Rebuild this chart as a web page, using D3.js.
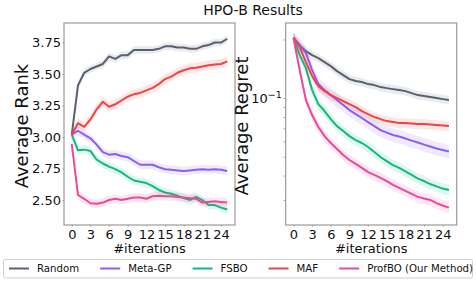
<!DOCTYPE html>
<html>
<head>
<meta charset="utf-8">
<script src="https://cdnjs.cloudflare.com/ajax/libs/d3/7.8.5/d3.min.js"></script>
<style>
    body { margin: 0; background: #fff; }
    svg { display: block; font-family: "DejaVu Sans", sans-serif; }
</style>
</head>
<body>
<svg id="chart" width="476" height="281"></svg>
<script>
// HPO-B results: average rank (left) and average regret (right, log scale)

var iterations = [0, 1, 2, 3, 4, 5, 6, 7, 8, 9, 10, 11, 12, 13, 14, 15, 16, 17, 18, 19, 20, 21, 22, 23, 24, 25];
var xTicks = [0, 3, 6, 9, 12, 15, 18, 21, 24];
var rankTicks = [2.50, 2.75, 3.00, 3.25, 3.50, 3.75];
var regretMajor = [0.1];
var regretMinor = [0.03, 0.04, 0.05, 0.06, 0.07, 0.08, 0.09, 0.2];

var methods = ["Random", "Meta-GP", "FSBO", "MAF", "ProfBO (Our Method)"];
var colors = ["#596170", "#8b5cf6", "#10b981", "#ef4444", "#ec4899"];

// average rank per iteration
var rankRandom = [3.02, 3.41, 3.51, 3.54, 3.56, 3.58, 3.64, 3.62, 3.65, 3.65, 3.69, 3.69, 3.69, 3.69, 3.70, 3.72, 3.72, 3.71, 3.71, 3.70, 3.70, 3.72, 3.73, 3.75, 3.75, 3.78];
var rankMetaGP = [3.02, 3.05, 3.02, 2.99, 2.94, 2.88, 2.86, 2.865, 2.85, 2.84, 2.81, 2.78, 2.78, 2.78, 2.76, 2.745, 2.74, 2.735, 2.73, 2.735, 2.74, 2.745, 2.74, 2.745, 2.74, 2.73];
var rankFSBO = [3.02, 2.895, 2.90, 2.89, 2.82, 2.79, 2.765, 2.745, 2.72, 2.685, 2.655, 2.645, 2.635, 2.61, 2.58, 2.56, 2.55, 2.535, 2.515, 2.50, 2.525, 2.50, 2.46, 2.46, 2.44, 2.425];
var rankMAF = [3.02, 3.11, 3.08, 3.14, 3.22, 3.28, 3.24, 3.26, 3.29, 3.32, 3.34, 3.35, 3.37, 3.39, 3.42, 3.46, 3.48, 3.51, 3.53, 3.545, 3.55, 3.56, 3.57, 3.575, 3.58, 3.60];
var rankProfBO = [2.945, 2.54, 2.51, 2.475, 2.47, 2.48, 2.50, 2.51, 2.50, 2.51, 2.52, 2.52, 2.51, 2.53, 2.535, 2.53, 2.53, 2.525, 2.52, 2.515, 2.51, 2.48, 2.485, 2.49, 2.485, 2.48];
var rankSpread = [0.03, 0.035, 0.035, 0.04, 0.035];

// average regret per iteration
var regretRandom = [0.204, 0.187, 0.1742, 0.1662, 0.1604, 0.153, 0.1459, 0.1376, 0.1312, 0.1252, 0.1223, 0.1209, 0.118, 0.1166, 0.1139, 0.1125, 0.1112, 0.1099, 0.1086, 0.1061, 0.1036, 0.1024, 0.1012, 0.1, 0.0988, 0.0977];
var regretMetaGP = [0.204, 0.187, 0.1701, 0.1392, 0.118, 0.1099, 0.1036, 0.0977, 0.0921, 0.0868, 0.0828, 0.079, 0.0753, 0.0718, 0.0685, 0.0665, 0.0646, 0.0635, 0.062, 0.0605, 0.0591, 0.0577, 0.0564, 0.0551, 0.0541, 0.0532];
var regretFSBO = [0.204, 0.1662, 0.1425, 0.1099, 0.0931, 0.0858, 0.078, 0.0718, 0.0677, 0.0638, 0.0609, 0.0588, 0.0561, 0.0529, 0.0498, 0.0475, 0.0453, 0.0438, 0.042, 0.0403, 0.0386, 0.0375, 0.0362, 0.0352, 0.0343, 0.0337];
var regretMAF = [0.204, 0.1826, 0.153, 0.1297, 0.1152, 0.1086, 0.1036, 0.1, 0.0965, 0.0931, 0.0899, 0.0858, 0.0828, 0.0799, 0.078, 0.0762, 0.0753, 0.0744, 0.0744, 0.074, 0.0736, 0.0736, 0.0731, 0.0727, 0.0723, 0.0718];
var regretProfBO = [0.204, 0.1392, 0.0977, 0.0818, 0.071, 0.0638, 0.0588, 0.0548, 0.051, 0.0481, 0.0459, 0.0438, 0.0417, 0.0403, 0.0389, 0.0375, 0.0358, 0.0346, 0.0334, 0.0322, 0.0311, 0.0305, 0.03, 0.0289, 0.0281, 0.0274];
var regretSpread = [0.05, 0.08, 0.065, 0.06, 0.065];

var rankSeries = [rankRandom, rankMetaGP, rankFSBO, rankMAF, rankProfBO];
var regretSeries = [regretRandom, regretMetaGP, regretFSBO, regretMAF, regretProfBO];

var svg = d3.select("svg#chart");
var frameColor = "#9a9a9a";

var left = {x0: 64, x1: 235, y0: 23, y1: 225};
var right = {x0: 285.7, x1: 456.7, y0: 23, y1: 225};

var xLeft = d3.scaleLinear().domain([-1.25, 26.25]).range([left.x0, left.x1]);
var yLeft = d3.scaleLinear().domain([2.302, 3.905]).range([left.y1, left.y0]);
var xRight = d3.scaleLinear().domain([-1.25, 26.25]).range([right.x0, right.x1]);
var yRight = d3.scaleLog().domain([0.0223, 0.243]).range([right.y1, right.y0]);

function drawSeries(g, x, y, series, band, isLog) {
    series.forEach(function (vals, k) {
        var pts = iterations.map(function (it, i) {
            var v = vals[i], lo, hi;
            if (isLog) { lo = v * (1 - band[k]); hi = v * (1 + band[k]); }
            else { lo = v - band[k]; hi = v + band[k]; }
            return {it: it, v: v, lo: lo, hi: hi};
        });
        g.append("path")
            .datum(pts)
            .attr("fill", colors[k])
            .attr("fill-opacity", 0.13)
            .attr("d", d3.area()
                .x(function (d) { return x(d.it); })
                .y0(function (d) { return y(d.lo); })
                .y1(function (d) { return y(d.hi); }));
        g.append("path")
            .datum(pts)
            .attr("fill", "none")
            .attr("stroke", colors[k])
            .attr("stroke-width", 2)
            .attr("stroke-linejoin", "round")
            .attr("d", d3.line()
                .x(function (d) { return x(d.it); })
                .y(function (d) { return y(d.v); }));
    });
}

// d3.axis writes font-size 10 on its group, so set the font after the call
function styleAxis(ax) {
    ax.attr("font-size", 13).attr("font-family", "DejaVu Sans");
    ax.select(".domain").remove();
    ax.selectAll(".tick line").attr("stroke", "#999");
    ax.selectAll(".tick text").attr("fill", "#111");
}

function frame(box) {
    svg.append("rect")
        .attr("x", box.x0).attr("y", box.y0)
        .attr("width", box.x1 - box.x0).attr("height", box.y1 - box.y0)
        .attr("fill", "none").attr("stroke", frameColor).attr("stroke-width", 1.2);
}

// ---- left panel: rank
var gl = svg.append("g");
drawSeries(gl, xLeft, yLeft, rankSeries, rankSpread, false);
frame(left);

svg.append("g")
    .attr("transform", "translate(" + left.x0 + ",0)")
    .call(d3.axisLeft(yLeft).tickValues(rankTicks).tickFormat(d3.format(".2f")).tickSize(1.5).tickPadding(1.5))
    .call(styleAxis);

svg.append("g")
    .attr("transform", "translate(0," + left.y1 + ")")
    .call(d3.axisBottom(xLeft).tickValues(xTicks).tickSize(1.5).tickPadding(3))
    .call(styleAxis);

// ---- right panel: regret (log)
var gr = svg.append("g");
drawSeries(gr, xRight, yRight, regretSeries, regretSpread, true);
frame(right);

var yMajor = svg.append("g")
    .attr("transform", "translate(" + right.x0 + ",0)")
    .call(d3.axisLeft(yRight).tickValues(regretMajor).tickFormat("").tickSize(2).tickPadding(2))
    .call(styleAxis);
// 10^-1 label with superscript
yMajor.selectAll(".tick text").each(function (d) {
    var t = d3.select(this);
    var p = Math.round(Math.log10(d));
    t.append("tspan").text("10");
    t.append("tspan").attr("font-size", 9.5).attr("dy", "-0.45em").text("\u2212" + Math.abs(p));
});

svg.append("g")
    .attr("transform", "translate(" + right.x0 + ",0)")
    .call(d3.axisLeft(yRight).tickValues(regretMinor).tickFormat("").tickSize(2))
    .call(styleAxis);

svg.append("g")
    .attr("transform", "translate(0," + right.y1 + ")")
    .call(d3.axisBottom(xRight).tickValues(xTicks).tickSize(1.5).tickPadding(3))
    .call(styleAxis);

// ---- labels
svg.append("text")
    .attr("x", 253).attr("y", 15)
    .attr("text-anchor", "middle").attr("font-size", 14).attr("fill", "#111")
    .text("HPO-B Results");

[[left, "Average Rank", 28], [right, "Average Regret", 248]].forEach(function (a) {
    var box = a[0];
    svg.append("text")
        .attr("transform", "translate(" + a[2] + "," + ((box.y0 + box.y1) / 2 + 2) + ") rotate(-90)")
        .attr("text-anchor", "middle").attr("font-size", 18).attr("fill", "#111")
        .text(a[1]);
    svg.append("text")
        .attr("x", (box.x0 + box.x1) / 2).attr("y", 253)
        .attr("text-anchor", "middle").attr("font-size", 13).attr("fill", "#111")
        .text("#iterations");
});

// ---- legend
var lg = svg.append("g");
lg.append("rect")
    .attr("x", 3.5).attr("y", 259.5).attr("width", 469).attr("height", 18.5)
    .attr("rx", 2).attr("fill", "#fff").attr("stroke", "#cfcfcf").attr("stroke-width", 1);
var lx = 9;
methods.forEach(function (m, k) {
    lg.append("line")
        .attr("x1", lx).attr("x2", lx + 20).attr("y1", 268.5).attr("y2", 268.5)
        .attr("stroke", colors[k]).attr("stroke-width", 2);
    var t = lg.append("text")
        .attr("x", lx + 28).attr("y", 268.5).attr("dy", "0.35em")
        .attr("font-size", 10.2).attr("fill", "#111")
        .text(m);
    lx = lx + 28 + t.node().getComputedTextLength() + 21;
});
</script>
</body>
</html>
